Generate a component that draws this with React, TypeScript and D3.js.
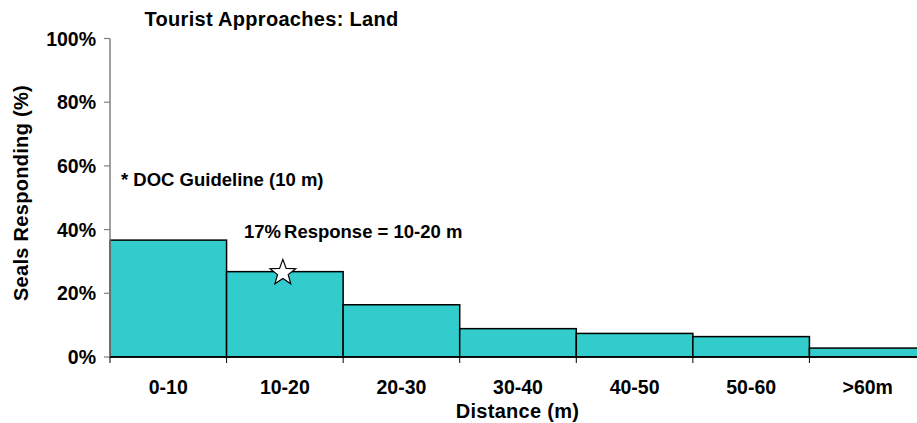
import React from "react";
import * as d3 from "d3";

const categories = ["0-10", "10-20", "20-30", "30-40", "40-50", "50-60", ">60m"];
const responding = [0.367, 0.268, 0.164, 0.089, 0.074, 0.064, 0.028];
const yTicks = [0, 0.2, 0.4, 0.6, 0.8, 1.0];
const starMarker = { category: "10-20", value: 0.264 };
const title = "Tourist Approaches: Land";
const xTitle = "Distance (m)";
const yTitle = "Seals Responding (%)";
const note1 = "* DOC Guideline (10 m)";
const note2a = "17%";
const note2b = "Response = 10-20 m";

const W = 917;
const H = 423;
const FONT = "'Liberation Sans', Arial, sans-serif";

export default function App() {
  const x = d3.scaleBand<string>().domain(categories).range([110, 926]).padding(0);
  const y = d3.scaleLinear().domain([0, 1]).range([357, 38.5]);
  const fmt = d3.format(".0%");

  const starPath = (cx: number, cy: number, rOuter: number, rInner: number) => {
    const pts: [number, number][] = [];
    for (let i = 0; i < 10; i++) {
      const r = i % 2 === 0 ? rOuter : rInner;
      const a = -Math.PI / 2 + (i * Math.PI) / 5;
      pts.push([cx + r * Math.cos(a), cy + r * Math.sin(a)]);
    }
    return d3.line()(pts) + "Z";
  };

  const sx = (x(starMarker.category) ?? 0) + x.bandwidth() / 2 - 2;
  const sy = y(starMarker.value);

  return (
    <div style={{ position: "absolute", left: 0, top: 0 }}>
      <svg width={W} height={H} style={{ display: "block", background: "#fff" }} fontFamily={FONT}>
        <text x={271.5} y={26} textAnchor="middle" fontSize={20} fontWeight="bold" letterSpacing={0.3}>{title}</text>

        {/* bars */}
        {categories.map((c, i) => (
          <rect
            key={c}
            x={x(c)}
            y={y(responding[i])}
            width={x.bandwidth()}
            height={y(0) - y(responding[i])}
            fill="#33CCCC"
            stroke="#000"
            strokeWidth={1.5}
          />
        ))}

        {/* y axis */}
        <line x1={110} x2={110} y1={y(1)} y2={y(0)} stroke="#808080" strokeWidth={1.5} />
        {yTicks.map((t) => (
          <g key={t}>
            <line x1={104} x2={110} y1={y(t)} y2={y(t)} stroke="#808080" strokeWidth={1.2} />
            <text x={96} y={y(t)} dy="0.36em" textAnchor="end" fontSize={19.5} fontWeight="bold">{fmt(t)}</text>
          </g>
        ))}

        {/* x axis */}
        <line x1={110} x2={926} y1={y(0)} y2={y(0)} stroke="#000" strokeWidth={1.5} />
        {categories.map((c) => (
          <line key={"t" + c} x1={x(c)} x2={x(c)} y1={y(0)} y2={y(0) + 6} stroke="#000" strokeWidth={1} />
        ))}
        {categories.map((c) => (
          <text key={"l" + c} x={(x(c) ?? 0) + x.bandwidth() / 2} y={394} textAnchor="middle" fontSize={19.5} fontWeight="bold">{c}</text>
        ))}

        <text x={517.5} y={417.5} textAnchor="middle" fontSize={20} fontWeight="bold" letterSpacing={0.3}>{xTitle}</text>
        <text transform={`translate(28,193) rotate(-90)`} textAnchor="middle" fontSize={20} fontWeight="bold" letterSpacing={0.3}>{yTitle}</text>

        {/* annotations */}
        <text x={121} y={186} fontSize={18.5} fontWeight="bold">{note1}</text>
        <text x={244} y={237.5} fontSize={18.5} fontWeight="bold">
          <tspan>{note2a}</tspan>
          <tspan dx={3}>{note2b}</tspan>
        </text>

        <path d={starPath(sx, sy, 13.5, 5.6)} fill="#fff" stroke="#000" strokeWidth={1.2} />
      </svg>
    </div>
  );
}
